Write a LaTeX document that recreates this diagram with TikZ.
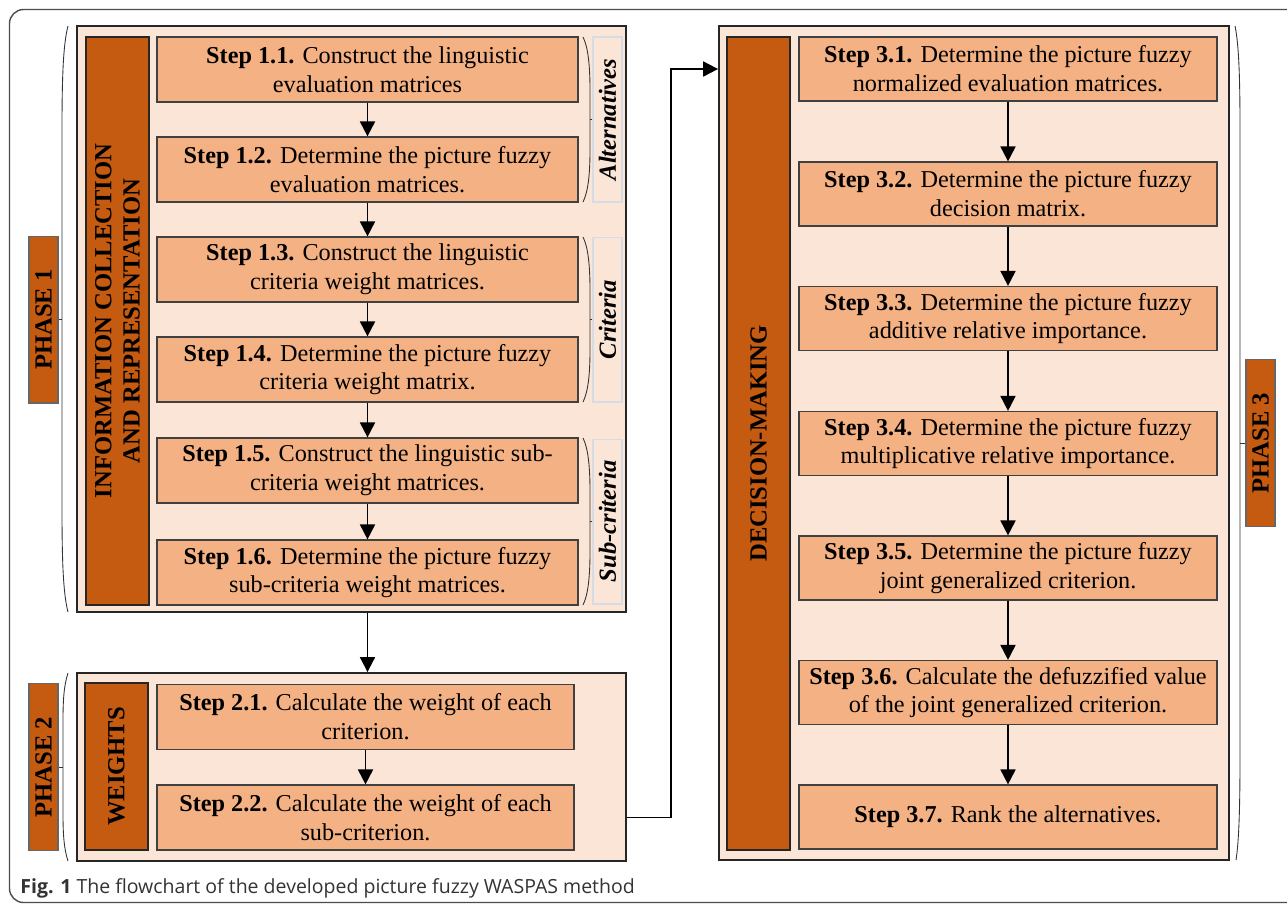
\documentclass[tikz,border=0pt]{standalone}
\usepackage{fontspec}
\setmainfont{Liberation Serif}
\newfontfamily\capfont{Open Sans}
\usepackage{tikz}
\usetikzlibrary{arrows.meta,positioning}
\definecolor{burntOrange}{RGB}{197,90,17}
\definecolor{peachFill}{RGB}{244,177,131}
\definecolor{paleFill}{RGB}{251,229,214}
\definecolor{labelLine}{RGB}{214,220,229}
\definecolor{captionGray}{RGB}{51,51,51}
\tikzset{
  container/.style={draw=black!85, fill=paleFill, line width=1.1pt, inner sep=0pt},
  stepbox/.style={draw=black!75, fill=peachFill, line width=0.7pt, align=center,
    inner sep=0pt, minimum height=1.3cm, font=\fontsize{13.8}{16.4}\selectfont},
  barbox/.style={draw=black!85, fill=burntOrange, line width=0.8pt, rotate=90,
    align=center, inner sep=0pt, minimum height=1.26cm,
    font=\fontsize{14}{16}\selectfont\bfseries},
  phasebox/.style={draw=black!60, fill=burntOrange, line width=0.6pt, rotate=90,
    inner sep=0pt, minimum width=3.34cm, minimum height=0.58cm,
    font=\fontsize{14}{16}\selectfont\bfseries},
  groupbox/.style={draw=labelLine, line width=0.6pt, rotate=90, inner sep=0pt,
    minimum width=3.3cm, minimum height=0.58cm,
    font=\fontsize{14}{16}\selectfont\bfseries\itshape},
  flow/.style={-{Triangle[length=8.5pt,width=8.5pt]}, line width=1.1pt},
  bracket/.style={draw=black!80, line width=0.5pt},
  frame/.style={draw=black!70, line width=0.8pt, rounded corners=8pt}
}

\begin{document}
\begin{tikzpicture}[x=0.02cm, y=-0.02cm]
  \useasboundingbox (0,0) rectangle (1287,904);
  \draw[frame] (1290,9.5) -- (9.5,9.5) -- (9.5,902.5) -- (1290,902.5);

  % phase 1
  \node[container, minimum width=10.98cm, minimum height=11.72cm] (ph1) at (351.5,319) {};
  \node[barbox, minimum width=11.36cm] (info) at (117.5,321)
    {INFORMATION COLLECTION\\AND REPRESENTATION};
  \node[stepbox, minimum width=8.42cm] (s11) at (367.5,69.5)
    {\textbf{Step 1.1.} Construct the linguistic\\evaluation matrices};
  \node[stepbox, minimum width=8.42cm] (s12) at (367.5,169.5)
    {\textbf{Step 1.2.} Determine the picture fuzzy\\evaluation matrices.};
  \node[stepbox, minimum width=8.42cm] (s13) at (367.5,269.5)
    {\textbf{Step 1.3.} Construct the linguistic\\criteria weight matrices.};
  \node[stepbox, minimum width=8.42cm] (s14) at (367.5,369.5)
    {\textbf{Step 1.4.} Determine the picture fuzzy\\criteria weight matrix.};
  \node[stepbox, minimum width=8.42cm] (s15) at (367.5,470.5)
    {\textbf{Step 1.5.} Construct the linguistic sub-\\criteria weight matrices.};
  \node[stepbox, minimum width=8.42cm] (s16) at (367.5,572.5)
    {\textbf{Step 1.6.} Determine the picture fuzzy\\sub-criteria weight matrices.};
  \node[groupbox] (alt) at (607.5,119.5) {Alternatives};
  \node[groupbox] (crit) at (607.5,319.5) {Criteria};
  \node[groupbox] (subcrit) at (607.5,521.5) {Sub-criteria};
  \draw[bracket] (583,37) .. controls (588,47) and (590,65) .. (590,90) -- (590,150)
    .. controls (590,175) and (588,192) .. (583,202);
  \draw[bracket] (583,237) .. controls (588,247) and (590,265) .. (590,290) -- (590,350)
    .. controls (590,375) and (588,392) .. (583,402);
  \draw[bracket] (583,438) .. controls (588,448) and (590,466) .. (590,491) -- (590,552)
    .. controls (590,577) and (588,595) .. (583,605);
  \draw[bracket] (590,119.5) -- (alt.north);
  \draw[bracket] (590,319.5) -- (crit.north);
  \draw[bracket] (590,521.5) -- (subcrit.north);
  \node[phasebox] (lab1) at (43.5,319.5) {PHASE 1};
  \draw[bracket] (68,26) .. controls (63,45) and (62,80) .. (62,130) -- (62,508)
    .. controls (62,558) and (63,593) .. (68,612);
  \draw[bracket] (62,319.5) -- (lab1.south);

  % phase 2
  \node[container, minimum width=10.98cm, minimum height=3.76cm] (ph2) at (351.5,767) {};
  \node[barbox, minimum width=3.34cm] (weights) at (116.5,766.5) {WEIGHTS};
  \node[stepbox, minimum width=8.34cm] (s21) at (365.5,717)
    {\textbf{Step 2.1.} Calculate the weight of each\\criterion.};
  \node[stepbox, minimum width=8.34cm] (s22) at (365.5,817.5)
    {\textbf{Step 2.2.} Calculate the weight of each\\sub-criterion.};
  \node[phasebox] (lab2) at (43.5,767) {PHASE 2};
  \draw[bracket] (68,673) .. controls (64,685) and (63,700) .. (63,720) -- (63,814)
    .. controls (63,834) and (64,849) .. (68,861);
  \draw[bracket] (63,767) -- (lab2.south);

  % phase 3
  \node[container, minimum width=10.2cm, minimum height=16.68cm] (ph3) at (974,443) {};
  \node[barbox, minimum width=16.26cm] (decide) at (758.5,443.5) {DECISION-MAKING};
  \node[stepbox, minimum width=8.36cm, minimum height=1.28cm] (s31) at (1008,69)
    {\textbf{Step 3.1.} Determine the picture fuzzy\\normalized evaluation matrices.};
  \node[stepbox, minimum width=8.36cm, minimum height=1.28cm] (s32) at (1008,194)
    {\textbf{Step 3.2.} Determine the picture fuzzy\\decision matrix.};
  \node[stepbox, minimum width=8.36cm, minimum height=1.28cm] (s33) at (1008,318.5)
    {\textbf{Step 3.3.} Determine the picture fuzzy\\additive relative importance.};
  \node[stepbox, minimum width=8.36cm, minimum height=1.28cm] (s34) at (1008,443.5)
    {\textbf{Step 3.4.} Determine the picture fuzzy\\multiplicative relative importance.};
  \node[stepbox, minimum width=8.36cm, minimum height=1.28cm] (s35) at (1008,568)
    {\textbf{Step 3.5.} Determine the picture fuzzy\\joint generalized criterion.};
  \node[stepbox, minimum width=8.36cm, minimum height=1.28cm] (s36) at (1008,692.5)
    {\textbf{Step 3.6.} Calculate the defuzzified value\\of the joint generalized criterion.};
  \node[stepbox, minimum width=8.36cm, minimum height=1.28cm] (s37) at (1008,817)
    {\textbf{Step 3.7.} Rank the alternatives.};
  \node[phasebox] (lab3) at (1260.5,443) {PHASE 3};
  \draw[bracket] (1235,26) .. controls (1239,45) and (1240,80) .. (1240,130) -- (1240,756)
    .. controls (1240,806) and (1239,841) .. (1236,860);
  \draw[bracket] (1240,443) -- (lab3.north);

  % arrows
  \foreach \a/\b in {s11/s12,s12/s13,s13/s14,s14/s15,s15/s16,s21/s22,
                     s31/s32,s32/s33,s33/s34,s34/s35,s35/s36,s36/s37}
    \draw[flow] (\a) -- (\b);
  \draw[flow] (ph1.south -| s16) -- (ph2.north -| s16);
  \coordinate (bend) at (671,0);
  \draw[flow] (s22 -| ph2.east) -| (bend |- s31) -- (s31 -| ph3.west);

  \node[anchor=base west, text=captionGray, inner sep=0pt,
        font=\capfont\fontsize{11.1}{13.5}\selectfont] (cap) at (20,893)
    {\textbf{Fig. 1} The flowchart of the developed picture fuzzy WASPAS method};
\end{tikzpicture}
\end{document}
